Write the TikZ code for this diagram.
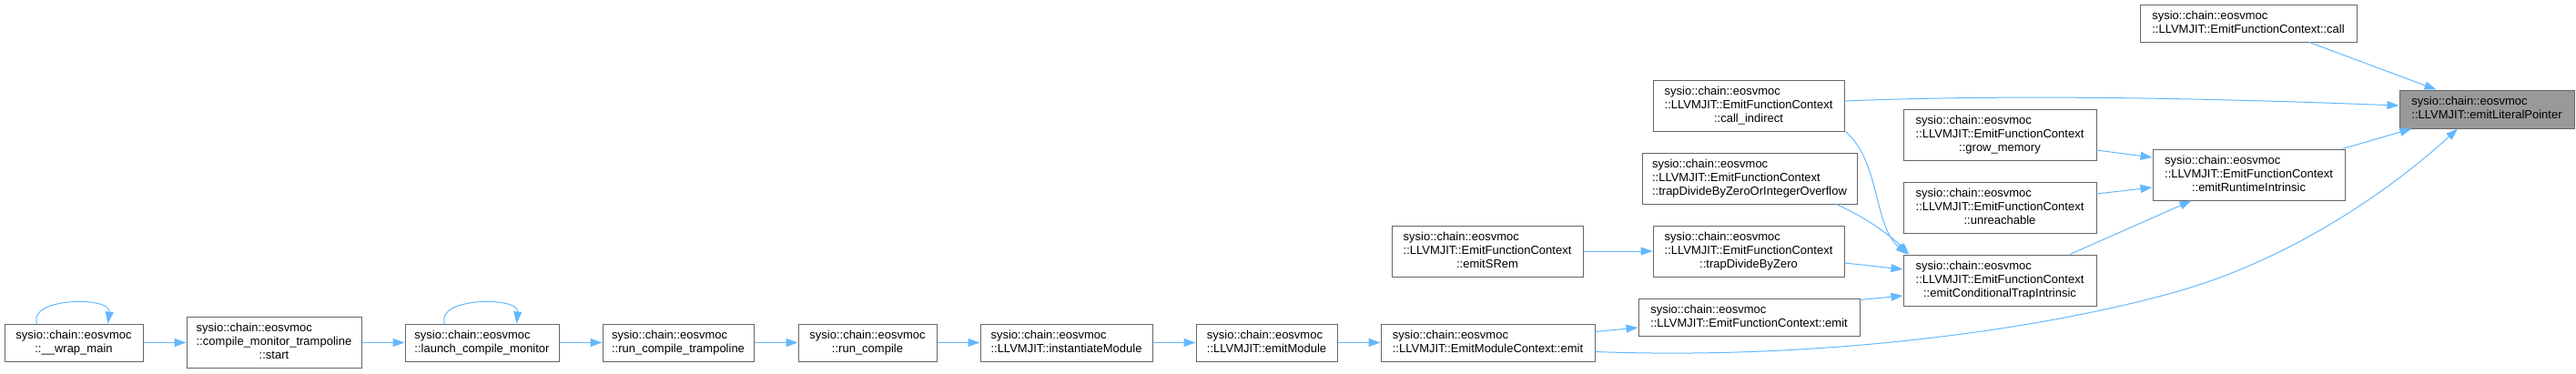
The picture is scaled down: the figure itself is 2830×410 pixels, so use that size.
\documentclass[tikz,border=0pt]{standalone}
\usepackage{fontspec}
\setmainfont{Liberation Sans}
\usetikzlibrary{arrows.meta,calc}
\definecolor{edgec}{HTML}{63B8FF}
\definecolor{bordc}{HTML}{666666}
\definecolor{hlfill}{HTML}{999999}
\newcommand{\lb}[2]{\begin{tabular}{@{}l@{}}#1\\\multicolumn{1}{@{}c@{}}{#2}\end{tabular}}
\begin{document}
\begin{tikzpicture}[x=1pt,y=-1pt,
  box/.style={draw=bordc, line width=1pt, fill=white, inner sep=0pt, minimum height=41pt, font=\fontsize{13}{15}\selectfont},
  boxc/.style={box, minimum height=56pt},
  hl/.style={box, fill=hlfill},
  edge/.style={draw=edgec, line width=1pt, -{Triangle[length=13pt,width=9pt]}}]
\useasboundingbox (0,0) rectangle (2830,410);
% bottom chain
\node[box, minimum width=152pt] (wrap) at (81,376.5) {\lb{sysio::chain::eosvmoc}{::\_\_wrap\_main}};
\node[boxc, minimum width=192pt] (start) at (301,376) {\lb{sysio::chain::eosvmoc\\::compile\_monitor\_trampoline}{::start}};
\node[box, minimum width=169pt] (launch) at (529.5,376.5) {\lb{sysio::chain::eosvmoc}{::launch\_compile\_monitor}};
\node[box, minimum width=166pt] (rct) at (745,376.5) {\lb{sysio::chain::eosvmoc}{::run\_compile\_trampoline}};
\node[box, minimum width=152pt] (runc) at (953,376.5) {\lb{sysio::chain::eosvmoc}{::run\_compile}};
\node[box, minimum width=189pt] (inst) at (1171.5,376.5) {\lb{sysio::chain::eosvmoc}{::LLVMJIT::instantiateModule}};
\node[box, minimum width=155pt] (emod) at (1391.5,376.5) {\lb{sysio::chain::eosvmoc}{::LLVMJIT::emitModule}};
\node[box, minimum width=235pt] (emc) at (1634.5,376.5) {\lb{sysio::chain::eosvmoc}{::LLVMJIT::EmitModuleContext::emit}};
% middle
\node[box, minimum width=243pt] (efcemit) at (1921.5,348.5) {\lb{sysio::chain::eosvmoc}{::LLVMJIT::EmitFunctionContext::emit}};
\node[boxc, minimum width=210pt] (srem) at (1634,276) {\lb{sysio::chain::eosvmoc\\::LLVMJIT::EmitFunctionContext}{::emitSRem}};
\node[boxc, minimum width=210pt] (tdbz) at (1921,276) {\lb{sysio::chain::eosvmoc\\::LLVMJIT::EmitFunctionContext}{::trapDivideByZero}};
\node[boxc, minimum width=236pt] (tdbzoio) at (1922,196) {\lb{sysio::chain::eosvmoc\\::LLVMJIT::EmitFunctionContext}{::trapDivideByZeroOrIntegerOverflow}};
\node[boxc, minimum width=210pt] (callind) at (1921,116) {\lb{sysio::chain::eosvmoc\\::LLVMJIT::EmitFunctionContext}{::call\_indirect}};
\node[boxc, minimum width=212pt] (condtrap) at (2197,308) {\lb{sysio::chain::eosvmoc\\::LLVMJIT::EmitFunctionContext}{::emitConditionalTrapIntrinsic}};
\node[boxc, minimum width=212pt] (grow) at (2197,148) {\lb{sysio::chain::eosvmoc\\::LLVMJIT::EmitFunctionContext}{::grow\_memory}};
\node[boxc, minimum width=212pt] (unreach) at (2197,228) {\lb{sysio::chain::eosvmoc\\::LLVMJIT::EmitFunctionContext}{::unreachable}};
\node[boxc, minimum width=211pt] (runtime) at (2470.5,192) {\lb{sysio::chain::eosvmoc\\::LLVMJIT::EmitFunctionContext}{::emitRuntimeIntrinsic}};
\node[box, minimum width=238pt] (call) at (2470,25.5) {\lb{sysio::chain::eosvmoc}{::LLVMJIT::EmitFunctionContext::call}};
\node[hl, minimum width=192pt, minimum height=42pt] (elp) at (2732,120) {\lb{sysio::chain::eosvmoc}{::LLVMJIT::emitLiteralPointer}};
% self loops
\draw[edge] ($(wrap.north west)+(36,0)$) .. controls ($(wrap.north west)+(26,-29)$) and ($(wrap.north west)+(118,-30)$) .. ($(wrap.north west)+(114,0)$);
\draw[edge] ($(launch.north west)+(44,0)$) .. controls ($(launch.north west)+(34,-29)$) and ($(launch.north west)+(126,-30)$) .. ($(launch.north west)+(123,0)$);
% chain
\draw[edge] (wrap.east) -- (start.west |- wrap.east);
\draw[edge] (start.east |- launch.west) -- (launch.west);
\draw[edge] (launch.east) -- (rct.west);
\draw[edge] (rct.east) -- (runc.west);
\draw[edge] (runc.east) -- (inst.west);
\draw[edge] (inst.east) -- (emod.west);
\draw[edge] (emod.east) -- (emc.west);
% emc
\draw[edge] ($(emc.north east)+(0,9)$) -- ($(efcemit.west)+(0,11.5)$);
\draw[edge] ($(emc.south east)+(0,-11)$) .. controls (2000,396) and (2250,362) .. (2400,318) .. controls (2520,282) and (2625,210) .. ($(elp.south)+(-32,0)$);
% into condtrap
\draw[edge] ($(efcemit.north east)+(0,2)$) -- ($(condtrap.west)+(0,17)$);
\draw[edge] ($(tdbz.east)+(0,13)$) -- ($(condtrap.west)+(0,-12)$);
\draw[edge] ($(tdbzoio.south east)+(-23,0)$) .. controls (2052,240) and (2078,260) .. ($(condtrap.north west)+(7,0)$);
\draw[edge] ($(callind.south east)+(1,0)$) .. controls (2066,178) and (2058,248) .. ($(condtrap.north west)+(5,0)$);
\draw[edge] (srem.east) -- (tdbz.west);
% into runtime
\draw[edge] ($(condtrap.north)+(77,0)$) -- ($(runtime.south)+(-63,0)$);
\draw[edge] ($(grow.east)+(0,17)$) -- ($(runtime.west)+(0,-19)$);
\draw[edge] ($(unreach.east)+(0,-15)$) -- ($(runtime.west)+(0,14)$);
% into elp
\draw[edge] ($(runtime.north east)+(-3,0)$) -- ($(elp.south west)+(14,0)$);
\draw[edge] ($(call.south)+(67,0)$) -- ($(elp.north west)+(41,0)$);
\draw[edge] ($(callind.east)+(0,-5)$) .. controls (2200,104) and (2400,107) .. ($(elp.west)+(0,-4)$);
\end{tikzpicture}
\end{document}
